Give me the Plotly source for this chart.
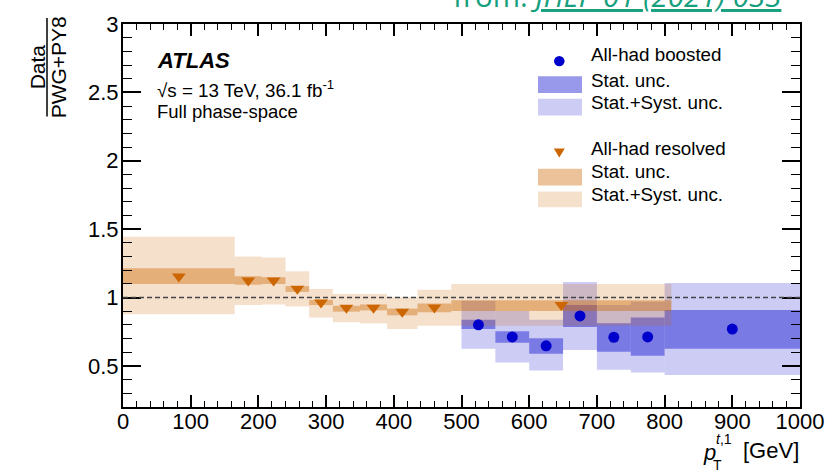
import plotly.graph_objects as go

# ---------------- data ----------------
res_edges = [0, 165, 205, 240, 275, 310, 350, 390, 435, 485, 810]
res_ratio = [1.154, 1.125, 1.125, 1.065, 0.964, 0.926, 0.926, 0.897, 0.927, 0.945]
res_stat_lo = [1.099, 1.094, 1.099, 1.041, 0.945, 0.897, 0.906, 0.870, 0.892, 0.902]
res_stat_hi = [1.214, 1.156, 1.149, 1.084, 0.983, 0.940, 0.950, 0.919, 0.957, 0.981]
res_tot_lo = [0.878, 0.945, 0.950, 0.935, 0.854, 0.820, 0.811, 0.770, 0.794, 0.794]
res_tot_hi = [1.444, 1.300, 1.293, 1.192, 1.063, 1.027, 1.027, 1.003, 1.058, 1.100]

boo_edges = [500, 550, 600, 650, 700, 750, 800, 1000]
boo_ratio = [0.801, 0.712, 0.647, 0.866, 0.710, 0.712, 0.770]
boo_stat_lo = [0.770, 0.669, 0.590, 0.784, 0.604, 0.575, 0.626]
boo_stat_hi = [0.837, 0.753, 0.703, 0.945, 0.813, 0.854, 0.909]
boo_tot_lo = [0.626, 0.525, 0.467, 0.616, 0.472, 0.453, 0.434]
boo_tot_hi = [0.976, 0.902, 0.837, 1.113, 0.945, 0.969, 1.106]

x_ticks = [0, 100, 200, 300, 400, 500, 600, 700, 800, 900, 1000]
y_ticks = [0.5, 1, 1.5, 2, 2.5, 3]

# ---------------- styling ----------------
W, H = 837, 476
L, R, T, B = 123, 37, 18, 69
PW, PH = W - L - R, H - T - B
FONT = "Liberation Sans, Arial, Helvetica, sans-serif"

BLUE = "#0000cc"
ORANGE = "#cc6600"
BLUE_TOT = "rgba(0,0,204,0.2)"
BLUE_STAT = "rgba(0,0,204,0.4)"
OR_TOT = "rgba(204,102,0,0.2)"
OR_STAT = "rgba(204,102,0,0.4)"


def fx(p):
    return (p - L) / PW


def fy(p):
    return (H - B - p) / PH


def centers(edges):
    return [(a + b) / 2 for a, b in zip(edges[:-1], edges[1:])]


def widths(edges):
    return [b - a for a, b in zip(edges[:-1], edges[1:])]


def band(edges, lo, hi, color):
    return go.Bar(
        x=centers(edges), y=[h - l for l, h in zip(lo, hi)], base=lo,
        width=widths(edges), marker=dict(color=color, line=dict(width=0)),
        hoverinfo="skip", showlegend=False,
    )


fig = go.Figure()
fig.add_trace(band(boo_edges, boo_tot_lo, boo_tot_hi, BLUE_TOT))
fig.add_trace(band(boo_edges, boo_stat_lo, boo_stat_hi, BLUE_STAT))
fig.add_trace(go.Scatter(x=centers(boo_edges), y=boo_ratio, mode="markers",
                         marker=dict(symbol="circle", size=11, color=BLUE),
                         showlegend=False, hoverinfo="skip"))
fig.add_trace(band(res_edges, res_tot_lo, res_tot_hi, OR_TOT))
fig.add_trace(band(res_edges, res_stat_lo, res_stat_hi, OR_STAT))
fig.add_trace(go.Scatter(x=centers(res_edges), y=res_ratio, mode="markers",
                         marker=dict(symbol="triangle-down", size=12, color=ORANGE),
                         showlegend=False, hoverinfo="skip"))

shapes = []
# reference line at ratio 1
shapes.append(dict(type="line", xref="x", yref="y", x0=0, x1=1000, y0=1, y1=1,
                   line=dict(color="#444444", width=1.5, dash="5px,3px"), layer="above"))

# y-axis fraction bar
shapes.append(dict(type="line", xref="paper", yref="paper", x0=fx(47), x1=fx(47),
                   y0=fy(12), y1=fy(112), line=dict(color="black", width=1.5)))


# legend swatches
def rect(x0, x1, y0, y1, color):
    return dict(type="rect", xref="paper", yref="paper", x0=fx(x0), x1=fx(x1),
                y0=fy(y1), y1=fy(y0), fillcolor=color, line=dict(width=0), layer="above")


shapes.append(rect(538, 582, 71, 88, BLUE_STAT))
shapes.append(rect(538, 582, 94, 111, BLUE_TOT))
shapes.append(rect(538, 582, 165, 182, OR_STAT))
shapes.append(rect(538, 582, 188, 204, OR_TOT))
# legend markers
shapes.append(dict(type="circle", xref="paper", yref="paper", x0=fx(554), x1=fx(564.6),
                   y0=fy(61), y1=fy(50.4), fillcolor=BLUE, line=dict(width=0), layer="above"))
tx, ty = 559.3, 149
tri = "M {} {} L {} {} L {} {} Z".format(fx(tx - 5.5), fy(ty - 4.5), fx(tx + 5.5), fy(ty - 4.5),
                                         fx(tx), fy(ty + 4.5))
shapes.append(dict(type="path", xref="paper", yref="paper", path=tri, fillcolor=ORANGE,
                   line=dict(width=0), layer="above"))

ann = []


def text(x, y, s, size, xanchor="left", angle=0, color="black", family=FONT):
    ann.append(dict(x=fx(x), y=fy(y), xref="paper", yref="paper", text=s, showarrow=False,
                    xanchor=xanchor, yanchor="middle", textangle=angle,
                    font=dict(size=size, color=color, family=family)))


text(155, 55, "<b><i>ATLAS</i></b>", 22)
text(155, 84, "\u221as = 13 TeV, 36.1 fb<sup>-1</sup>", 18.8)
text(155, 107, "Full phase-space", 18.5)

text(589, 49, "All-had boosted", 18.8)
text(589, 75, "Stat. unc.", 18.8)
text(589, 98, "Stat.+Syst. unc.", 18.8)
text(589, 144, "All-had resolved", 18.8)
text(589, 168, "Stat. unc.", 18.8)
text(589, 191, "Stat.+Syst. unc.", 18.8)

# y-axis title as a fraction
text(37, 62, "Data", 21, xanchor="center", angle=-90)
text(58, 62, "PWG+PY8", 21, xanchor="center", angle=-90)

# x-axis title p_T^{t,1} [GeV]
text(701, 453, "<i>p</i>", 22)
text(714, 440, "<i>t</i>,1", 14)
text(711, 466, "T", 14)
text(801, 451, "[GeV]", 22, xanchor="right")

# source note at the top (cut by the top edge, as in the reference)
text(451, -11, "from: <i><u>JHEP 01 (2021) 033</u></i>", 29.5, color="#17a07e",
     family="Open Sans, sans-serif")

axis_common = dict(
    showgrid=False, zeroline=False, ticks="inside", showline=True,
    linecolor="black", linewidth=2, mirror="ticks", tickcolor="black",
    tickfont=dict(size=22, family=FONT, color="black"),
)

fig.update_layout(
    width=W, height=H, margin=dict(l=L, r=R, t=T, b=B, pad=0),
    paper_bgcolor="white", plot_bgcolor="white", barmode="overlay",
    showlegend=False, shapes=shapes, annotations=ann,
    xaxis=dict(range=[0, 1000], tickvals=x_ticks, ticklen=12, tickwidth=1.5,
               ticklabelstandoff=-6,
               minor=dict(dtick=20, tick0=0, ticklen=6, tickwidth=1.2, ticks="inside",
                          tickcolor="black"),
               **axis_common),
    yaxis=dict(range=[0.2, 3], tickvals=y_ticks, ticklen=18, tickwidth=1.5,
               ticklabelstandoff=-2,
               minor=dict(dtick=0.1, tick0=0, ticklen=9, tickwidth=1.2, ticks="inside",
                          tickcolor="black"),
               **axis_common),
)

fig.write_html("out.html")
